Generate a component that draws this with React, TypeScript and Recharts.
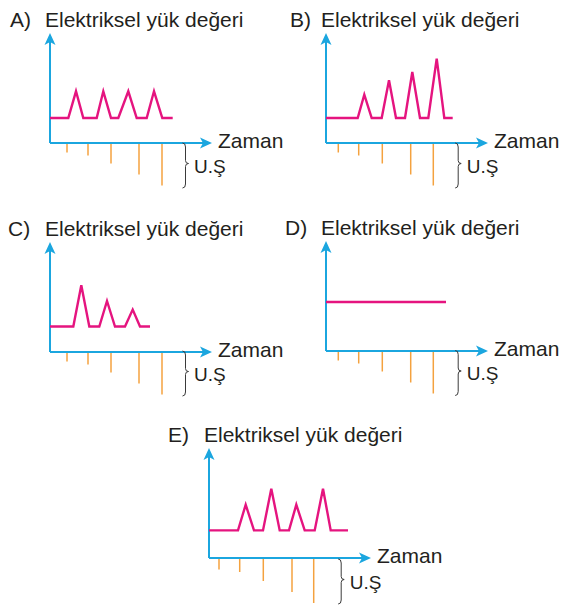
import React from 'react';
import { LineChart, Line, XAxis, YAxis, ReferenceLine, ReferenceDot } from 'recharts';

const CYAN = '#1ba6df';
const PINK = '#e5147f';
const ORANGE = '#f4a23f';
const INK = '#231f20';
const FONT = '"Liberation Sans", Arial, Helvetica, sans-serif';

// Shared axis ranges (time to the right, charge up; stimulus strength drawn downwards)
const TIME_MAX = 16.2;
const CHARGE_MAX = 11;
const CHARGE_MIN = -4.3;

// Electrical charge traces
const A_TIME = [0, 1.83, 2.6, 3.33, 4.67, 5.33, 6.1, 6.83, 7.83, 8.67, 9.67, 10.4, 11.23, 12.27];
const A_CHARGE = [2.5, 2.5, 5.17, 2.5, 2.5, 5.17, 2.5, 2.5, 5.17, 2.5, 2.5, 5.17, 2.5, 2.5];

const B_TIME = [0, 3.17, 3.83, 4.57, 5.57, 6.3, 7.0, 7.9, 8.63, 9.4, 10.23, 11.07, 11.83, 12.67];
const B_CHARGE = [2.5, 2.5, 4.84, 2.5, 2.5, 6.27, 2.5, 2.5, 7.1, 2.5, 2.5, 8.44, 2.5, 2.5];

const C_TIME = [0, 2.33, 3.13, 3.93, 4.93, 5.7, 6.5, 7.5, 8.27, 9.0, 10.0];
const C_CHARGE = [2.55, 2.55, 6.67, 2.55, 2.55, 5.1, 2.55, 2.55, 4.24, 2.55, 2.55];

const D_TIME = [0, 12.0];
const D_CHARGE = [4.9, 4.9];

const E_TIME = [0, 2.9, 3.67, 4.5, 5.4, 6.23, 7.07, 8.0, 8.73, 9.57, 10.57, 11.4, 12.17, 13.9];
const E_CHARGE = [2.76, 2.76, 5.33, 2.76, 2.76, 6.93, 2.76, 2.76, 5.33, 2.76, 2.76, 6.93, 2.76, 2.76];

// Stimuli (U.Ş = uyarı şiddeti)
const STIM_TIME_AC = [1.7, 3.8, 6.1, 8.9, 11.2];
const STIM_TIME_BD = [1.23, 3.27, 5.63, 8.47, 10.73];
const STIM_TIME_E = [1.0, 3.07, 5.43, 8.3, 10.47];
const STIM_STRENGTH = [0.95, 1.25, 2.05, 3.15, 4.25];
const STIM_STRENGTH_E = [1.15, 1.4, 2.3, 3.4, 4.5];

const TITLE = 'Elektriksel yük değeri';
const X_LABEL = 'Zaman';
const STIM_LABEL = 'U.Ş';

const ML = 48;
const MR = 76;
const MT = 26;
const MB = 8;
const PLOT_W = 162;
const PLOT_H = 153;
const ABOVE_AXIS = 110;

type PanelProps = {
  letter: string;
  letterDx: number;
  time: number[];
  charge: number[];
  stimTime: number[];
  stimStrength: number[];
  braceTime: number;
  braceDepth: number;
  ox: number;
  oy: number;
};

const ArrowUp = (p: any) => (
  <path
    d={`M${p.cx},${p.cy} L${p.cx + 5.5},${p.cy + 12} L${p.cx},${p.cy + 9} L${p.cx - 5.5},${p.cy + 12} Z`}
    fill={CYAN}
  />
);

const ArrowRight = (p: any) => (
  <path
    d={`M${p.cx},${p.cy} L${p.cx - 12},${p.cy - 5.5} L${p.cx - 9},${p.cy} L${p.cx - 12},${p.cy + 5.5} Z`}
    fill={CYAN}
  />
);

function Panel(props: PanelProps) {
  const { letter, letterDx, time, charge, stimTime, stimStrength, braceTime, braceDepth, ox, oy } = props;
  const data = time.map((t, i) => ({ t, v: charge[i] }));

  const Title = (p: any) => (
    <g fontFamily={FONT} fontSize={21} fill={INK}>
      <text x={p.cx + letterDx} y={p.cy - 6}>{letter})</text>
      <text x={p.cx - 5} y={p.cy - 6}>{TITLE}</text>
    </g>
  );

  const XLabel = (p: any) => (
    <text x={p.cx + 6} y={p.cy + 5} fontFamily={FONT} fontSize={21} fill={INK}>
      {X_LABEL}
    </text>
  );

  const Brace = (p: any) => {
    const x = p.cx;
    const top = p.cy - 22.5;
    const bot = p.cy + 22.5;
    const mid = p.cy - 2;
    const d = `M${x - 1.5},${top} Q${x + 1.5},${top} ${x + 1.5},${top + 4} L${x + 1.5},${mid - 3} Q${x + 1.5},${mid} ${x + 4.5},${mid} Q${x + 1.5},${mid} ${x + 1.5},${mid + 3} L${x + 1.5},${bot - 4} Q${x + 1.5},${bot} ${x - 1.5},${bot}`;
    return (
      <g>
        <path d={d} fill="none" stroke="#3a3a3a" strokeWidth={1} />
        <text x={x + 10} y={p.cy + 7} fontFamily={FONT} fontSize={19} fill={INK}>
          {STIM_LABEL}
        </text>
      </g>
    );
  };

  return (
    <div
      style={{
        position: 'absolute',
        left: ox - ML,
        top: oy - ABOVE_AXIS - MT,
      }}
    >
      <LineChart
        width={ML + PLOT_W + MR}
        height={MT + PLOT_H + MB}
        data={data}
        margin={{ top: MT, right: MR, bottom: MB, left: ML }}
        style={{ overflow: 'visible' }}
      >
        <XAxis type="number" dataKey="t" domain={[0, TIME_MAX]} allowDataOverflow hide />
        <YAxis type="number" domain={[CHARGE_MIN, CHARGE_MAX]} allowDataOverflow hide />

        {stimTime.map((t, i) => (
          <ReferenceLine
            key={`s${i}`}
            segment={[
              { x: t, y: 0 },
              { x: t, y: -stimStrength[i] },
            ]}
            stroke={ORANGE}
            strokeWidth={1.5}
            ifOverflow="visible"
          />
        ))}

        <ReferenceLine
          segment={[
            { x: 0, y: 0 },
            { x: 0, y: CHARGE_MAX - 0.6 },
          ]}
          stroke={CYAN}
          strokeWidth={2}
          ifOverflow="visible"
        />
        <ReferenceLine
          segment={[
            { x: 0, y: 0 },
            { x: TIME_MAX - 0.6, y: 0 },
          ]}
          stroke={CYAN}
          strokeWidth={2}
          ifOverflow="visible"
        />
        <ReferenceDot x={0} y={CHARGE_MAX} shape={ArrowUp} ifOverflow="visible" />
        <ReferenceDot x={TIME_MAX} y={0} shape={ArrowRight} ifOverflow="visible" />

        <Line
          type="linear"
          dataKey="v"
          stroke={PINK}
          strokeWidth={2.4}
          dot={false}
          activeDot={false}
          isAnimationActive={false}
        />

        <ReferenceDot x={0} y={CHARGE_MAX} shape={Title} ifOverflow="visible" />
        <ReferenceDot x={TIME_MAX} y={0} shape={XLabel} ifOverflow="visible" />
        <ReferenceDot x={braceTime} y={-braceDepth / 2} shape={Brace} ifOverflow="visible" />
      </LineChart>
    </div>
  );
}

export default function App() {
  return (
    <div
      style={{
        position: 'absolute',
        left: 0,
        top: 0,
        width: 562,
        height: 607,
        overflow: 'hidden',
        background: '#ffffff',
      }}
    >
      <Panel letter="A" letterDx={-40} time={A_TIME} charge={A_CHARGE} stimTime={STIM_TIME_AC} stimStrength={STIM_STRENGTH} braceTime={13.4} braceDepth={4.5} ox={50} oy={143} />
      <Panel letter="B" letterDx={-36} time={B_TIME} charge={B_CHARGE} stimTime={STIM_TIME_BD} stimStrength={STIM_STRENGTH} braceTime={13.07} braceDepth={4.5} ox={326} oy={143} />
      <Panel letter="C" letterDx={-42} time={C_TIME} charge={C_CHARGE} stimTime={STIM_TIME_AC} stimStrength={STIM_STRENGTH} braceTime={13.4} braceDepth={4.3} ox={50} oy={352} />
      <Panel letter="D" letterDx={-41} time={D_TIME} charge={D_CHARGE} stimTime={STIM_TIME_BD} stimStrength={STIM_STRENGTH} braceTime={13.07} braceDepth={4.4} ox={326} oy={351} />
      <Panel letter="E" letterDx={-41} time={E_TIME} charge={E_CHARGE} stimTime={STIM_TIME_E} stimStrength={STIM_STRENGTH_E} braceTime={13.07} braceDepth={4.7} ox={209} oy={558} />
    </div>
  );
}
